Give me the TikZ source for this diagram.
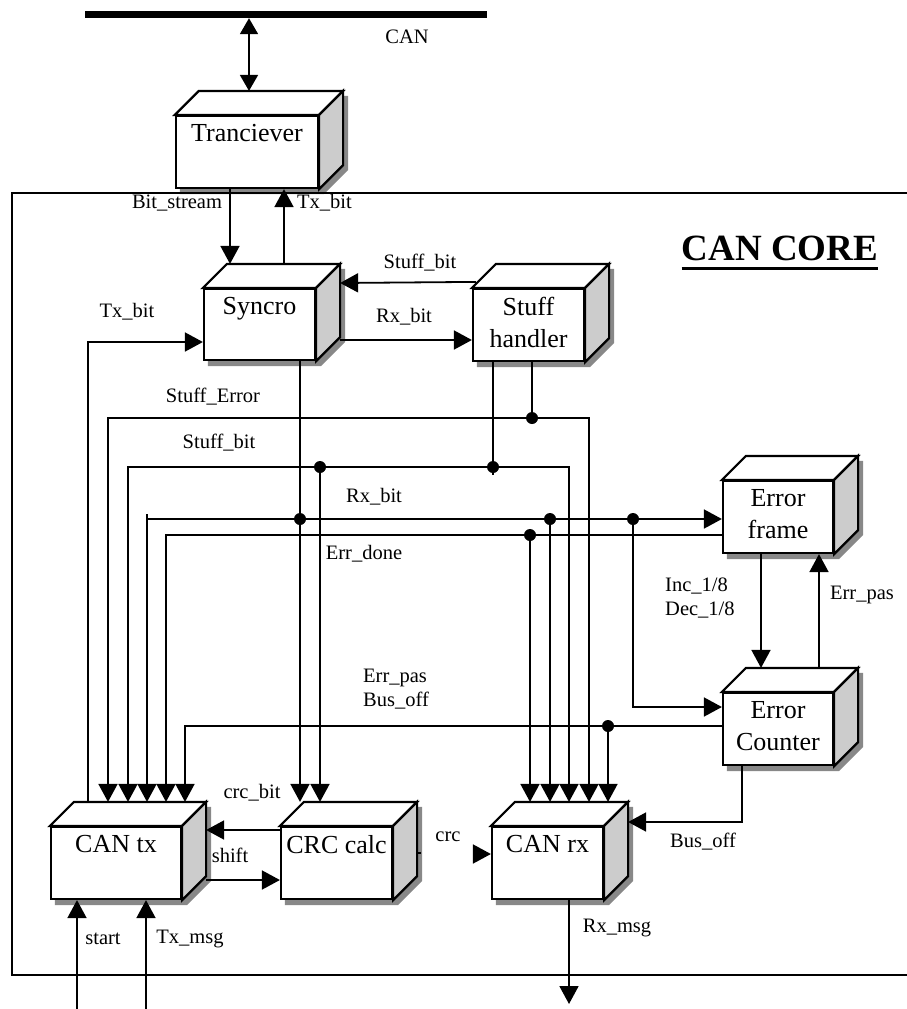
\documentclass[tikz,border=0pt]{standalone}
\usepackage{fontspec}
\setmainfont{Liberation Serif}
\usetikzlibrary{arrows.meta,calc,backgrounds}
\definecolor{sidegray}{HTML}{CCCCCC}
\definecolor{shadowgray}{HTML}{888888}
\tikzset{
 front/.style={draw, fill=white, line width=2.2pt, inner sep=0pt},
 face/.style={draw, line width=2.2pt},
 wire/.style={line width=1.8pt},
 arr/.style={wire, -{Triangle[length=18pt,width=19pt]}},
 boxtext/.style={font=\fontsize{26}{32}\selectfont, inner sep=0pt, align=center, anchor=north},
 lbl/.style={font=\fontsize{20.5}{23.5}\selectfont, inner sep=0pt},
 dot/.style={circle, fill, inner sep=0pt, minimum size=12pt},
}
\newcommand\cubebox[6]{%
 \node[front, minimum width=#4pt, minimum height=#5pt] (#1) at (#2,#3) {};
 \begin{scope}[on background layer]
 \fill[shadowgray] ([shift={(5,5)}]#1.south west) -- ([shift={(5,5)}]#1.north west) -- ([shift={(29,-19)}]#1.north west) -- ([shift={(29,-19)}]#1.north east) -- ([shift={(29,-19)}]#1.south east) -- ([shift={(5,5)}]#1.south east) -- cycle;
 \end{scope}
 \filldraw[face, fill=white] (#1.north west) -- ([shift={(24,-24)}]#1.north west) -- ([shift={(24,-24)}]#1.north east) -- (#1.north east) -- cycle;
 \filldraw[face, fill=sidegray] (#1.north east) -- ([shift={(24,-24)}]#1.north east) -- ([shift={(24,-24)}]#1.south east) -- (#1.south east) -- cycle;
 \node[boxtext] (#1-txt) at ([yshift=-9pt]#1.north) {#6};
 \coordinate (#1-t) at ([yshift=24pt]#1.north);
 \coordinate (#1-r) at ([xshift=24pt]#1.east);
}
\begin{document}
\begin{tikzpicture}[x=1pt,y=-1pt]
\useasboundingbox (0,0) rectangle (907,1009);
% CAN CORE frame
\draw[line width=1.8pt] (912,193) -- (12,193) -- (12,975) -- (912,975);
% bus
\node[fill, minimum width=402pt, minimum height=7pt, inner sep=0pt] (bus) at (286,14.5) {};
% boxes
\cubebox{tr}{247}{152}{142}{72}{Tranciever}
\cubebox{sy}{259.5}{324.5}{111}{71}{Syncro}
\cubebox{sh}{528.5}{325}{111}{72}{Stuff\\handler}
\cubebox{ef}{778}{517}{110}{72}{Error\\frame}
\cubebox{ec}{778}{729}{110}{72}{Error\\Counter}
\cubebox{ctx}{116}{863}{130}{72}{CAN tx}
\cubebox{crc}{336.5}{863}{111}{72}{CRC calc}
\cubebox{crx}{547.5}{863}{111}{72}{CAN rx}
% title
\node[font=\fontsize{37}{40}\selectfont\bfseries, inner sep=0pt] (core) at (780,248) {CAN CORE};
\draw[line width=3pt] (core.south west |- 0,268) -- (core.south east |- 0,268);
% bus <-> tranciever
\draw[wire, {Triangle[length=16pt,width=18pt]}-{Triangle[length=16pt,width=18pt]}] (bus.south -| 249,0) -- (249,0 |- tr-t);
% tranciever <-> syncro
\draw[arr] (230,0 |- tr.south) -- (230,0 |- sy-t);
\draw[arr] (284,0 |- sy-t) -- (284,0 |- tr.south);
% syncro <-> stuff handler
\draw[arr] ($(sh.north west)+(4,-6)$) -- (sy-r |- 0,283);
\draw[arr] (sy-r |- 0,340) -- (sh.west |- 0,340);
% Tx_bit from CAN tx to syncro
\draw[arr] (88,0 |- ctx-t) |- (sy.west |- 0,342);
% Stuff_Error
\coordinate (jSE) at (532,418);
\draw[wire] (532,0 |- sh.south) -- (jSE);
\draw[arr] (jSE) -| (108,0 |- ctx-t);
\draw[arr] (jSE) -| (589,0 |- crx-t);
% Stuff_bit
\coordinate (jSB) at (493,467);
\coordinate (jSB2) at (320,467);
\draw[wire] (493,0 |- sh.south) -- (493,475);
\draw[arr] (jSB) -| (128,0 |- ctx-t);
\draw[arr] (jSB) -| (569,0 |- crx-t);
\draw[arr] (jSB2) -- (320,0 |- crc-t);
% Rx_bit
\coordinate (jRB) at (300,519);
\coordinate (jRB2) at (550,519);
\coordinate (jRB3) at (633,519);
\coordinate (rbStart) at (147,514);
\draw[wire] (300,0 |- sy.south) -- (jRB);
\draw[arr] (jRB) -- (300,0 |- crc-t);
\draw[arr] (rbStart) -- (147,0 |- ctx-t);
\draw[arr] (147,519) -- (ef.west |- 0,519);
\draw[arr] (jRB2) -- (550,0 |- crx-t);
\draw[arr] (jRB3) |- (ec.west |- 0,707);
% Err_done
\coordinate (jED) at (530,535);
\draw[arr] (ef.west |- 0,535) -| (166,0 |- ctx-t);
\draw[arr] (jED) -- (530,0 |- crx-t);
% Err_pas / Bus_off
\coordinate (jEP) at (608,726);
\draw[arr] (ec.west |- 0,726) -| (185,0 |- ctx-t);
\draw[arr] (jEP) -- (608,0 |- crx-t);
% error frame <-> error counter
\draw[arr] (761,0 |- ef.south) -- (761,0 |- ec-t);
\draw[arr] (819,0 |- ec-t) -- (819,0 |- ef.south);
% Bus_off to CAN rx
\draw[arr] (742,0 |- ec.south) |- (crx-r |- 0,822);
% crc_bit, shift, crc
\draw[arr] (crc.west |- 0,830) -- (ctx-r |- 0,830);
\draw[arr] (ctx-r |- 0,880) -- (crc.west |- 0,880);
\draw[wire] (crc-r |- 0,853) -- ++(4,0);
\coordinate (crcTip) at (473,854);
\draw[arr] (crcTip) -- (crx.west |- 0,854);
% external I/O
\coordinate (rxOut) at (569,1004);
\coordinate (startIn) at (77,1012);
\coordinate (txIn) at (146,1012);
\draw[arr] (569,0 |- crx.south) -- (rxOut);
\draw[arr] (startIn) -- (77,0 |- ctx.south);
\draw[arr] (txIn) -- (146,0 |- ctx.south);
% junction dots
\node[dot] (dSE) at (jSE) {};
\node[dot] (dSB) at (jSB) {};
\node[dot] (dSB2) at (jSB2) {};
\node[dot] (dRB) at (jRB) {};
\node[dot] (dRB2) at (jRB2) {};
\node[dot] (dRB3) at (jRB3) {};
\node[dot] (dED) at (jED) {};
\node[dot] (dEP) at (jEP) {};
% labels
\node[lbl] (lCAN) at (407,37) {CAN};
\node[lbl] (lBS) at (177,203) {Bit\_stream};
\node[lbl] (lTB1) at (324.5,203) {Tx\_bit};
\node[lbl] (lSB1) at (420,263) {Stuff\_bit};
\node[lbl] (lRB1) at (404,317) {Rx\_bit};
\node[lbl] (lTB2) at (127,312) {Tx\_bit};
\node[lbl] (lSE) at (213,397) {Stuff\_Error};
\node[lbl] (lSB2) at (219,443) {Stuff\_bit};
\node[lbl] (lRB2) at (374,497) {Rx\_bit};
\node[lbl] (lED) at (364,554) {Err\_done};
\node[lbl, align=left, anchor=west] (lID) at (665,598) {Inc\_1/8\\Dec\_1/8};
\node[lbl] (lEP) at (862,595) {Err\_pas};
\node[lbl, align=left, anchor=west] (lEB) at (363,689) {Err\_pas\\Bus\_off};
\node[lbl] (lCB) at (252,793) {crc\_bit};
\node[lbl] (lSh) at (230,855) {shift};
\node[lbl] (lCrc) at (448,837) {crc};
\node[lbl] (lBO) at (703,842) {Bus\_off};
\node[lbl] (lRM) at (617,928) {Rx\_msg};
\node[lbl] (lSt) at (103,939) {start};
\node[lbl] (lTM) at (190,939) {Tx\_msg};
\end{tikzpicture}
\end{document}
